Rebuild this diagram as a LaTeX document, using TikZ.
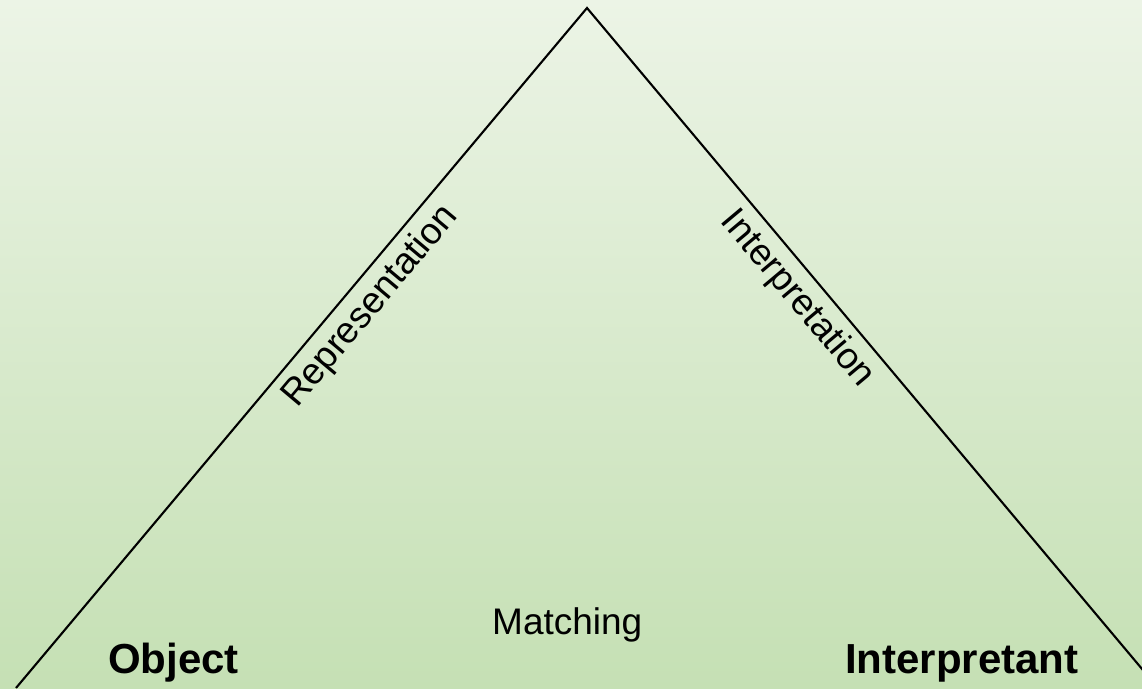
\documentclass[tikz,border=0pt]{standalone}
\usepackage{fontspec}
\setmainfont{Liberation Sans}

\definecolor{bgtop}{HTML}{ECF4E6}
\definecolor{bgbottom}{HTML}{C5E0B4}

\begin{document}
\begin{tikzpicture}[x=1pt,y=-1pt,
  side/.style={line width=2.1pt,black},
  sidetext/.style={font=\fontsize{37}{44}\selectfont,sloped,below,inner sep=8pt},
  cornertext/.style={font=\fontsize{42}{50}\selectfont\bfseries,inner sep=0pt,anchor=base west}]

% green background
\shade[top color=bgtop,bottom color=bgbottom] (0,0) rectangle (1142,688);
\useasboundingbox (0,0) rectangle (1142,688);
\clip (0,0) rectangle (1142,688);

% corners of the triangle
\coordinate (sign) at (587,8);
\coordinate (obj) at (16,688);
\coordinate (interp) at (1158,688);

% the two sides with their names
\draw[side] (obj) -- node[sidetext,pos=0.586] (repr) {Representation}
  (sign) -- node[sidetext,pos=0.403] (intp) {Interpretation} (interp);

% names at the base
\node[cornertext] (object) at (108,673) {Object};
\node[cornertext] (interpretant) at (845,673) {Interpretant};
\node[font=\fontsize{37}{44}\selectfont,inner sep=0pt,anchor=base west] (match) at (492,634) {Matching};

\end{tikzpicture}
\end{document}
